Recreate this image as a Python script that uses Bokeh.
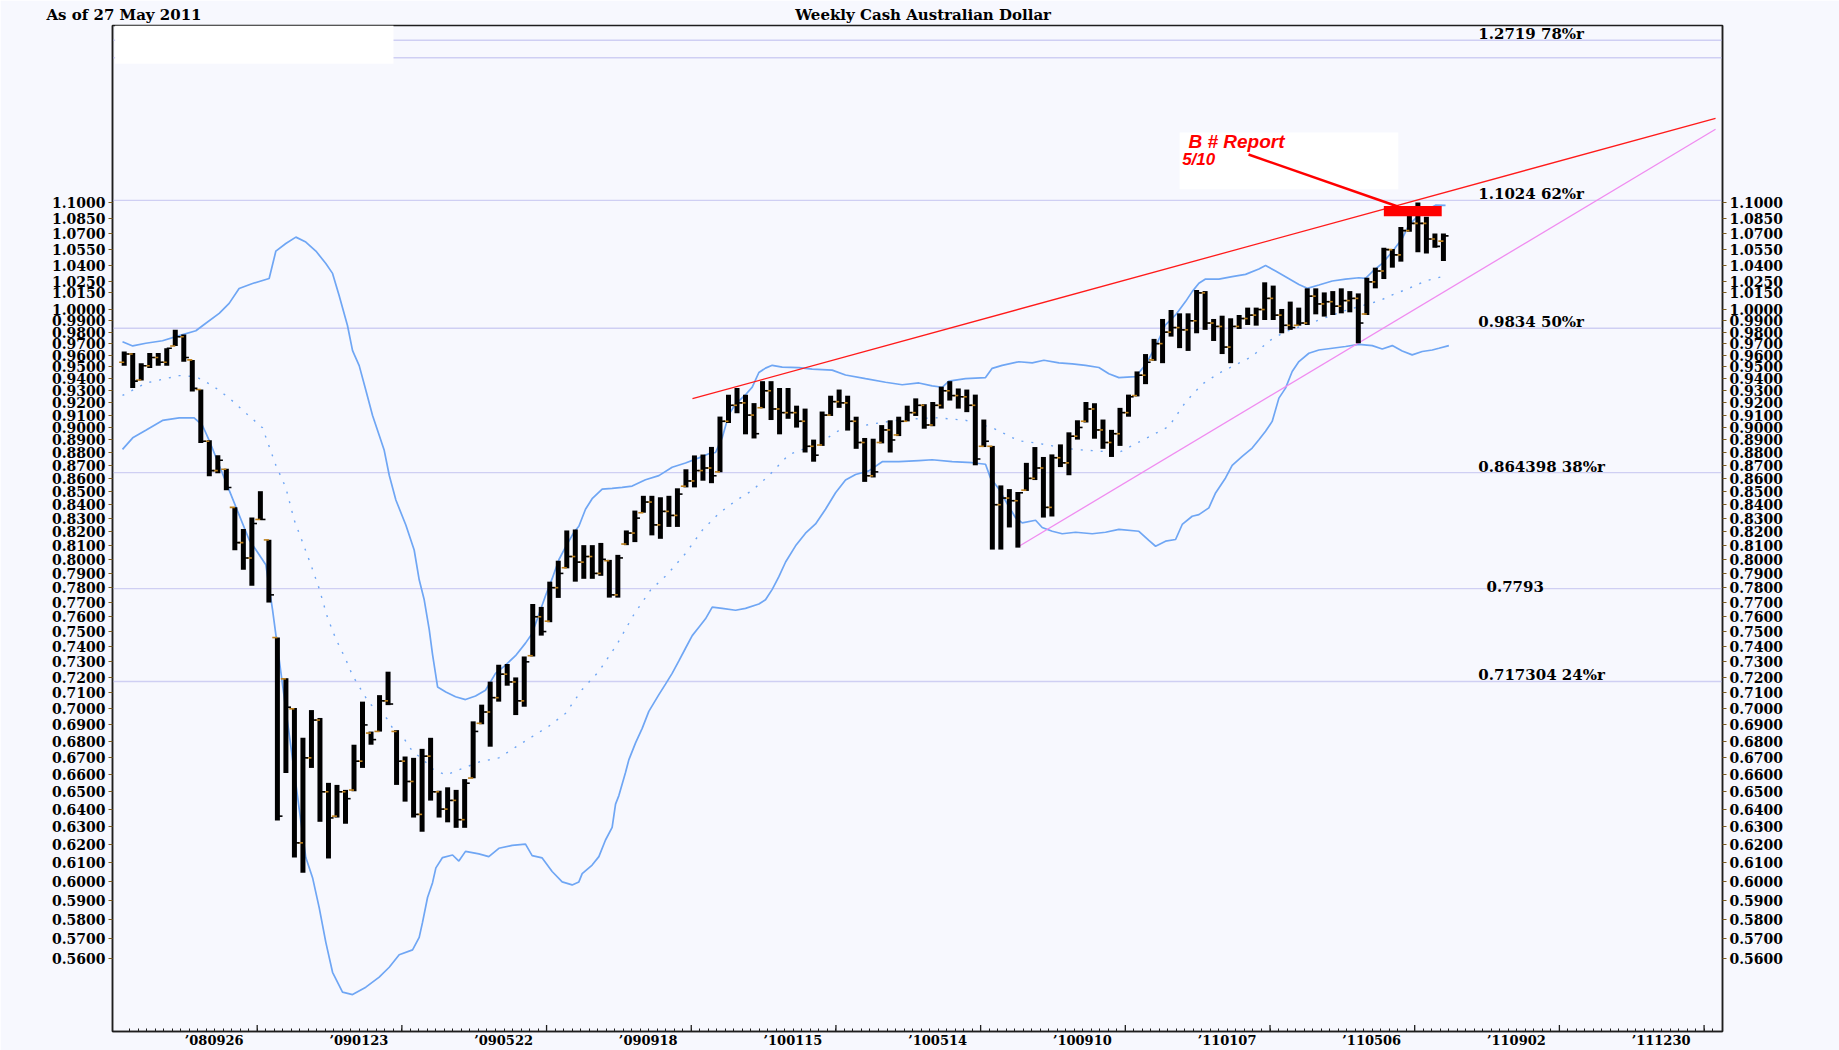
import math
import datetime as dt
from bokeh.plotting import figure
from bokeh.models import (Range1d, FixedTicker, LogAxis, LinearAxis, Span, Label,
                          PrintfTickFormatter, ColumnDataSource, BoxAnnotation, Arrow)
from bokeh.embed import file_html
from bokeh.resources import INLINE
from bokeh.core.properties import value

# ---------------- data (weekly AUD/USD, first bar = week ending 2008-06-06) -------------
first_week = "2008-06-06"

bar_high = [
    .9631, .962, .9532, .962, .962, .966, .982, .978, .956, .931,
    .8898, .878, .8674, .838, .822, .8304, .8502, .8141, .746, .7194,
    .7005, .6821, .6992, .6943, .6552, .654, .6511, .6779, .7045, .6859,
    .7086, .7236, .6868, .6708, .67, .6754, .6821, .6506, .6526, .6511,
    .6574, .6922, .7026, .7172, .7281, .7286, .7199, .7335, .7687, .7667,
    .7842, .799, .8209, .8216, .8102, .8102, .8118, .7996, .8032, .8209,
    .8356, .8467, .8467, .8456, .8467, .8524, .867, .8778, .8785, .8845,
    .9088, .9267, .9323, .9267, .9198, .938, .938, .9323, .9323, .9177,
    .9153, .8903, .9129, .9259, .931, .9259, .9087, .8916, .891, .9019,
    .9058, .9087, .9177, .9237, .9189, .9207, .9334, .938, .9319, .931,
    .9268, .9064, .8853, .8546, .8518, .8496, .872, .8844, .8766, .8786,
    .8865, .8961, .9058, .9207, .9197, .9064, .8981, .9159, .9268, .9462,
    .961, .9741, .9916, .9996, .9966, .9966, 1.0176, 1.0166, .9916, .9945,
    .9922, .9951, 1.0017, 1.0017, 1.0246, 1.0216, 1.0005, 1.0071, 1.0017, 1.0191,
    1.0191, 1.0154, 1.0166, 1.0191, 1.0166, 1.0145, 1.0288, 1.0381, 1.0568, 1.0555,
    1.0766, 1.0912, 1.1003, 1.0863, 1.0703, 1.0703]

bar_low = [
    .951, .9323, .9385, .949, .951, .951, .968, .9545, .9294, .8877,
    .8616, .864, .8509, .8065, .7925, .7813, .8286, .7697, .6336, .661,
    .6129, .6047, .664, .6328, .6124, .6352, .6317, .6503, .664, .6779,
    .6859, .7023, .654, .6443, .6352, .6272, .6449, .6352, .6325, .6294,
    .6294, .6579, .6904, .6767, .7045, .7146, .6961, .7013, .7335, .7473,
    .7563, .7729, .7936, .7842, .7862, .7862, .7883, .7731, .7731, .8102,
    .8124, .834, .8173, .8148, .8235, .8235, .8531, .8531, .8582, .8563,
    .8647, .9036, .9115, .8945, .8912, .9156, .906, .8945, .907, .8999,
    .8801, .8729, .8853, .9093, .9159, .8975, .883, .8573, .8607, .8873,
    .8801, .8931, .9049, .9093, .899, .901, .9153, .9219, .9153, .9124,
    .8701, .8844, .807, .807, .8231, .8084, .8504, .8587, .8304, .8312,
    .8687, .8624, .8903, .904, .891, .883, .8766, .8853, .9087, .9253,
    .9355, .9552, .9532, .9761, .9661, .9637, .979, .982, .9723, .961,
    .9532, .9828, .9863, .9857, .9907, .9907, .979, .982, .9857, .9863,
    .9957, .9937, .9951, .9966, .9975, .9703, .9951, 1.0191, 1.0276, 1.0381,
    1.0437, 1.0719, 1.0524, 1.0514, 1.0568, 1.0443]

bar_open = [
    .954, .961, .939, .951, .958, .954, .968, .976, .956, .931,
    .889, .866, .867, .838, .812, .801, .829, .814, .746, .719,
    .700, .621, .670, .693, .650, .636, .650, .651, .668, .685,
    .686, .705, .686, .668, .656, .637, .671, .650, .640, .645,
    .634, .658, .691, .698, .707, .722, .717, .705, .734, .760,
    .757, .780, .794, .802, .798, .802, .790, .799, .775, .811,
    .819, .834, .842, .825, .835, .832, .854, .858, .866, .868,
    .865, .905, .918, .920, .910, .916, .930, .915, .912, .912,
    .905, .885, .886, .910, .921, .920, .905, .888, .862, .888,
    .898, .894, .905, .912, .918, .902, .918, .930, .926, .925,
    .918, .885, .885, .840, .845, .843, .851, .860, .868, .838,
    .876, .872, .893, .905, .915, .898, .888, .895, .912, .926,
    .943, .956, .970, .980, .984, .982, .990, 1.015, .988, .985,
    .967, .985, .992, .995, 1.000, 1.010, .995, .986, .986, .988,
    1.012, 1.005, 1.007, 1.003, 1.008, 1.010, .996, 1.025, 1.035, 1.055,
    1.050, 1.073, 1.080, 1.080, 1.065, 1.063]

bar_close = [
    .961, .938, .951, .958, .954, .966, .976, .958, .932, .889,
    .866, .874, .853, .812, .801, .826, .829, .775, .636, .701,
    .621, .670, .693, .650, .635, .650, .646, .668, .690, .681,
    .705, .703, .668, .656, .637, .671, .650, .640, .645, .634,
    .655, .686, .698, .707, .722, .717, .705, .730, .760, .750,
    .780, .790, .802, .798, .802, .790, .800, .775, .801, .819,
    .830, .842, .825, .835, .832, .848, .858, .866, .868, .862,
    .905, .918, .920, .910, .895, .930, .915, .912, .912, .905,
    .885, .878, .910, .921, .920, .905, .888, .862, .865, .898,
    .890, .905, .912, .918, .902, .918, .930, .926, .925, .918,
    .875, .889, .840, .845, .843, .849, .860, .868, .838, .876,
    .872, .893, .900, .915, .898, .888, .895, .912, .925, .943,
    .954, .970, .980, .984, .982, .990, 1.015, .988, .985, .967,
    .985, .992, .995, 1.000, 1.010, .995, .986, .984, .988, 1.012,
    1.005, 1.007, 1.003, 1.008, 1.010, .988, 1.025, 1.035, 1.055, 1.050,
    1.073, 1.080, 1.080, 1.065, 1.058, 1.068]

# Bollinger bands (week index from first bar, price)
upper_x = [-0.2, 1.0, 2.54, 4.5, 6.46, 8.42, 9.59, 11.16, 12.33, 13.5, 15.08, 17.03, 17.82, 18.99,
           20.17, 21.34, 22.52, 23.69, 24.48, 25.26, 26.24, 26.83, 27.61, 28.4, 29.18, 29.96, 30.55,
           31.14, 31.92, 33.09, 34.07, 34.66, 35.25, 35.84, 36.23, 36.82, 37.79, 38.93, 40.1, 41.28,
           42.45, 43.63, 44.8, 45.98, 47.15, 47.93, 48.72, 49.5, 50.28, 51.07, 51.85, 52.83, 53.42,
           54.2, 54.98, 56.16, 57.33, 58.51, 59.68, 61.25, 62.82, 64.38, 65.95, 67.52, 68.69, 69.48,
           70.26, 71.04, 71.83, 73.0, 73.79, 74.57, 75.35, 76.14, 77.31, 79.27, 80.83, 83.18, 84.75,
           87.1, 89.45, 91.41, 93.37, 94.93, 96.11, 96.89, 98.85, 101.2, 101.98, 103.16, 105.12,
           106.69, 108.06, 109.82, 111.39, 112.95, 114.52, 115.69, 116.87, 118.83, 120.0, 121.18,
           122.35, 123.53, 124.7, 125.48, 126.27, 127.05, 128.62, 130.18, 131.75, 133.32, 134.1,
           135.28, 136.45, 138.02, 139.0, 140.37, 141.94, 143.5, 145.07, 145.85, 146.64, 147.81,
           148.99, 150.16, 150.94, 151.73, 152.9, 154.08, 155.25]
upper_y = [.9717, .968, .9703, .9725, .977, .9812, .9878, .9966, 1.0055, 1.019, 1.0235, 1.0281, 1.0536,
           1.0607, 1.0668, 1.0621, 1.0536, 1.042, 1.0328, 1.0123, .9856, .9639, .9511, .9302, .9097,
           .8937, .8818, .8624, .8435, .8249, .8067, .7855, .7716, .7513, .7347, .7138, .7106, .7076,
           .7058, .7081, .7117, .7225, .7279, .734, .7423, .7487, .7615, .7744, .7863, .7997, .8088,
           .8195, .824, .8366, .8445, .8518, .8524, .8531, .8541, .8589, .8621, .8686, .8719, .8759,
           .8791, .8801, .8918, .9105, .919, .9267, .933, .9453, .949, .9514, .9498, .9495, .9482,
           .9473, .9432, .9401, .9371, .935, .9365, .9341, .9329, .938, .9401, .941, .9488, .9513,
           .9544, .9535, .9557, .9535, .9526, .9513, .9495, .9442, .941, .9419, .9518, .9675, .9863,
           .9952, 1.0071, 1.0161, 1.0237, 1.0276, 1.0276, 1.0298, 1.0319, 1.0368, 1.04, 1.035, 1.0298,
           1.0227, 1.0191, 1.0221, 1.0258, 1.0276, 1.0288, 1.0282, 1.0343, 1.0421, 1.053, 1.0655,
           1.0783, 1.0848, 1.0928, 1.0977, 1.0975]

lower_x = [-0.2, 1.0, 2.54, 4.5, 6.46, 8.22, 9.2, 9.98, 11.16, 12.33, 13.51, 14.68, 15.86, 16.64,
           17.43, 18.21, 18.99, 19.78, 20.56, 21.34, 22.13, 22.91, 23.69, 24.48, 25.65, 26.83, 28.39,
           29.96, 31.14, 32.31, 33.88, 34.66, 35.05, 35.64, 36.23, 36.62, 37.4, 38.58, 39.32, 40.1,
           41.67, 42.84, 44.02, 45.58, 47.15, 47.93, 49.11, 50.28, 51.46, 52.63, 53.42, 53.81, 54.98,
           55.77, 56.55, 57.33, 57.73, 58.12, 58.9, 59.29, 60.08, 60.86, 61.64, 62.82, 63.6, 64.38,
           65.17, 65.95, 66.74, 67.52, 68.3, 69.09, 70.26, 71.83, 73.0, 74.57, 75.35, 76.14, 76.92,
           77.71, 78.88, 80.05, 81.23, 82.4, 83.58, 84.75, 85.93, 87.49, 89.06, 91.02, 93.37, 94.93,
           97.28, 99.63, 101.2, 101.79, 102.77, 103.75, 104.73, 105.51, 107.08, 107.86, 109.04,
           110.21, 111.78, 113.74, 115.3, 116.87, 119.22, 120.39, 121.18, 122.35, 123.53, 124.31,
           125.48, 126.27, 127.44, 128.23, 129.4, 130.18, 131.36, 132.53, 133.32, 134.1, 134.88,
           135.67, 136.45, 137.23, 138.02, 139.19, 140.37, 141.94, 143.5, 145.07, 146.64, 147.81,
           148.99, 150.16, 151.33, 152.51, 153.69, 154.47, 155.64]
lower_y = [.8826, .8917, .8977, .9057, .9077, .9077, .9016, .8897, .8701, .851, .8322, .8141, .8033,
           .7962, .7647, .7315, .6997, .6693, .6401, .6129, .602, .5861, .5682, .5532, .5435, .5423,
           .5459, .5508, .5557, .5619, .5644, .5707, .5784, .5914, .5993, .6073, .6129, .6143, .611,
           .6163, .6149, .6134, .618, .6196, .6203, .614, .6127, .6053, .5997, .5981, .5997, .6042,
           .6088, .6134, .6226, .6297, .6429, .6478, .6613, .6688, .679, .6879, .6984, .7089, .7156,
           .7225, .7306, .7389, .7473, .7529, .7586, .7666, .7657, .7644, .7657, .7687, .7716, .7788,
           .7877, .7981, .8097, .8189, .8257, .8366, .849, .8588, .863, .8658, .8729, .8729, .8738,
           .8744, .8729, .8721, .8709, .8602, .8518, .8407, .8303, .8265, .8284, .8231, .8203, .8185,
           .8196, .8185, .8196, .8217, .8203, .8136, .8094, .8131, .8143, .8253, .8314, .8326, .8376,
           .8489, .8603, .8701, .8771, .8836, .8902, .8969, .9049, .9239, .9322, .9461, .9546, .9617,
           .9645, .966, .9675, .9694, .9683, .9654, .9683, .9637, .9603, .9632, .9645, .966, .9683]

mid_x = [-0.2, 2.54, 6.46, 8.42, 10.38, 12.33, 14.29, 16.25, 17.82, 18.99, 19.97, 20.95, 21.93, 22.91,
         23.89, 24.87, 26.04, 26.83, 27.81, 28.79, 29.96, 30.94, 31.92, 32.9, 33.88, 35.05, 36.23,
         37.79, 41.67, 44.02, 45.98, 47.93, 49.89, 51.85, 53.81, 55.77, 57.92, 59.88, 61.84, 63.8,
         65.95, 67.91, 69.87, 71.83, 73.79, 75.74, 78.1, 81.62, 83.97, 87.88, 91.41, 95.33, 98.85,
         101.98, 105.12, 107.47, 109.04, 111.78, 113.74, 116.87, 122.74, 124.7, 126.66, 128.62,
         130.58, 132.53, 134.49, 136.45, 138.8, 141.15, 143.11, 145.07, 147.42, 148.99, 150.94,
         152.9, 154.86]
mid_y = [.9261, .9364, .9427, .9418, .9343, .924, .9117, .8997, .8701, .8529, .8286, .8124, .7962,
         .7793, .7594, .745, .7315, .7211, .7122, .7035, .6982, .6936, .6844, .6814, .6738, .6693,
         .6634, .6598, .6675, .67, .6764, .6828, .6892, .6971, .7122, .7238, .7417, .7615, .7783,
         .7892, .8042, .821, .8335, .8429, .8508, .8621, .8785, .8873, .8975, .9028, .9064, .9079,
         .9058, .8999, .8893, .8873, .8853, .8824, .8816, .8801, .9008, .9206, .9355, .9447, .9518,
         .9589, .9723, .9805, .9864, .9928, .9982, 1.0026, 1.0077, 1.0131, 1.0191, 1.0258, 1.0298]

# retracement levels and their labels
fib_levels = [1.2719, 1.2522, 1.1024, 0.9834, 0.864398, 0.7793, 0.717304]
fib_label_levels = [1.2719, 1.1024, 0.9834, 0.864398, 0.7793, 0.717304]
fib_text = ["1.2719 78%r", "1.1024 62%r", "0.9834 50%r", "0.864398 38%r", "0.7793", "0.717304 24%r"]
fib_text_x = [159.1, 159.1, 159.1, 159.1, 160.06, 159.1]

# drawn trend lines
red_line_x = [66.77, 186.97]
red_line_y = [0.9234, 1.1863]
pink_line_x = [105.04, 186.97]
pink_line_y = [0.809, 1.1747]

# axis ticks
ytick_values = [0.56, 0.57, 0.58, 0.59, 0.60, 0.61, 0.62, 0.63, 0.64, 0.65, 0.66, 0.67, 0.68, 0.69,
                0.70, 0.71, 0.72, 0.73, 0.74, 0.75, 0.76, 0.77, 0.78, 0.79, 0.80, 0.81, 0.82, 0.83,
                0.84, 0.85, 0.86, 0.87, 0.88, 0.89, 0.90, 0.91, 0.92, 0.93, 0.94, 0.95, 0.96, 0.97,
                0.98, 0.99, 1.00, 1.015, 1.025, 1.04, 1.055, 1.07, 1.085, 1.10]
xtick_dates = ["2008-09-26", "2009-01-23", "2009-05-22", "2009-09-18", "2010-01-15", "2010-05-14",
               "2010-09-10", "2011-01-07", "2011-05-06", "2011-09-02", "2011-12-30"]

title_left = "As of 27 May 2011"
title_center = "Weekly Cash Australian Dollar"

# ---------------- layout helpers -------------
BG = "#F7F8FE"
GRID = "#CFCFF3"
BAND = "#6FA6F4"
AXC = "#1E1E1E"
SERIF = "DejaVu Serif"

Y0, Y1 = 0.5247, 1.2888          # value range of the frame (log scale)
X0, X1 = -1.375, 187.79
FRAME_H = 1008                   # 25 .. 1033 px

d0 = dt.date.fromisoformat(first_week)
def widx(s):
    return (dt.date.fromisoformat(s) - d0).days / 7.0

TICK_SHIFT = -0.375
LABEL_SHIFT = -5.05
major_pos = [widx(d) + TICK_SHIFT for d in xtick_dates]
label_pos = [round(m + LABEL_SHIFT, 3) for m in major_pos]
label_txt = ["\u2019" + d[2:4] + d[5:7] + d[8:10] for d in xtick_dates]
minor_pos = [k + TICK_SHIFT for k in range(1, 188)]
px_per_ln = FRAME_H / math.log(Y1 / Y0)
major_tick_top = Y0 * math.exp(6.5 / px_per_ln)

n = len(bar_high)
xs = list(range(n))
src = ColumnDataSource(dict(
    x=xs, xl=[x - 0.6 for x in xs], xr=[x + 0.6 for x in xs],
    high=bar_high, low=bar_low, open=bar_open, close=bar_close))

p = figure(width=1839, height=1050, y_axis_type="log",
           x_range=Range1d(X0, X1), y_range=Range1d(Y0, Y1),
           output_backend="svg", toolbar_location=None,
           min_border_left=112, min_border_right=117, min_border_top=25, min_border_bottom=17,
           background_fill_color=BG, border_fill_color=BG)
p.grid.visible = False
p.outline_line_color = AXC
p.outline_line_width = 1.5

# y axes (left and right)
raxis = LogAxis()
p.add_layout(raxis, "right")
for ax in (p.yaxis[0], raxis):
    ax.ticker = FixedTicker(ticks=ytick_values, minor_ticks=[])
    ax.formatter = PrintfTickFormatter(format="%.4f")
    ax.major_label_text_font = SERIF
    ax.major_label_text_font_style = "bold"
    ax.major_label_text_font_size = "14px"
    ax.major_label_text_color = "black"
    ax.major_tick_out = 4
    ax.major_tick_in = 0
    ax.minor_tick_out = 0
    ax.minor_tick_in = 0
    ax.major_tick_line_color = "#7A5A1E"
    ax.major_tick_line_width = 1.2
    ax.axis_line_color = AXC
    ax.axis_line_width = 1.5
    ax.major_label_standoff = 3

# x axis: labels left of the date ticks, weekly minor ticks
xa = p.xaxis[0]
xa.ticker = FixedTicker(ticks=label_pos, minor_ticks=minor_pos)
xa.major_label_overrides = {lp: t for lp, t in zip(label_pos, label_txt)}
xa.major_tick_line_color = None
xa.major_tick_in = 0
xa.major_tick_out = 0
xa.minor_tick_in = 3
xa.minor_tick_out = 0
xa.minor_tick_line_color = AXC
xa.axis_line_color = AXC
xa.axis_line_width = 1.5
xa.major_label_standoff = 1
xa.major_label_text_font = SERIF
xa.major_label_text_font_style = "bold"
xa.major_label_text_font_size = "13px"
xa.major_label_text_color = "black"

# titles, written as tick labels of an axis above the frame
t_left_x = round(-0.024, 3)
t_center_x = round(93.87, 3)
ta = LinearAxis(ticker=FixedTicker(ticks=[t_left_x, t_center_x], minor_ticks=[]),
                major_label_overrides={t_left_x: title_left, t_center_x: title_center})
ta.axis_line_color = None
ta.major_tick_line_color = None
ta.minor_tick_line_color = None
ta.major_tick_in = 0
ta.major_tick_out = 0
ta.minor_tick_in = 0
ta.minor_tick_out = 0
ta.major_label_standoff = 2
ta.major_label_text_font = SERIF
ta.major_label_text_font_style = "bold"
ta.major_label_text_font_size = "15px"
ta.major_label_text_color = "black"
p.add_layout(ta, "above")

# retracement lines
for lv in fib_levels:
    p.add_layout(Span(location=lv, dimension="width", line_color=GRID, line_width=1.4, level="underlay"))
p.add_layout(BoxAnnotation(left=-1.07, right=31.64, bottom=1.2456, top=Y1, fill_color="white",
                           fill_alpha=1.0, line_color=None, level="underlay"))

# major date ticks (point up from the axis line)
p.segment(x0=major_pos, y0=[Y0] * len(major_pos), x1=major_pos, y1=[major_tick_top] * len(major_pos),
          line_color=AXC, line_width=1.3)

# Bollinger bands
p.line(upper_x, upper_y, line_color=BAND, line_width=1.7)
p.line(lower_x, lower_y, line_color=BAND, line_width=1.7)
p.line(mid_x, mid_y, line_color=BAND, line_width=1.4, line_dash="2 8")

# trend lines
p.line(red_line_x, red_line_y, line_color="#FF1A1A", line_width=1.3)
p.line(pink_line_x, pink_line_y, line_color="#F08CF0", line_width=1.3)

# OHLC bars
p.segment(x0="x", y0="low", x1="x", y1="high", source=src, line_color="black", line_width=5)
p.segment(x0="xl", y0="open", x1="x", y1="open", source=src, line_color="#C0821C", line_width=1.6)
p.segment(x0="x", y0="close", x1="xr", y1="close", source=src, line_color="black", line_width=1.6)

# retracement labels
fsrc = ColumnDataSource(dict(x=fib_text_x, y=fib_label_levels, t=fib_text))
p.text(x="x", y="y", text="t", source=fsrc, text_font=value(SERIF), text_font_style="bold",
       text_font_size="15px", text_color="black", text_baseline="bottom", text_align="left", y_offset=3)

# report note
p.add_layout(BoxAnnotation(left=124.0, right=149.7, bottom=1.1135, top=1.1712, fill_color="white",
                           fill_alpha=1.0, line_color=None, level="underlay"))
p.add_layout(Label(x=125.04, y=1.1619, text="B # Report", text_color="red", text_font="Liberation Sans",
                   text_font_style="bold italic", text_font_size="19px", text_baseline="alphabetic"))
p.add_layout(Label(x=124.3, y=1.1437, text="5/10", text_color="red", text_font="Liberation Sans",
                   text_font_style="bold italic", text_font_size="17px", text_baseline="alphabetic"))
p.add_layout(Arrow(end=None, x_start=132.1, y_start=1.1485, x_end=149.72, y_end=1.0961,
                   line_color="red", line_width=2.5))
p.add_layout(BoxAnnotation(left=148.0, right=154.8, bottom=1.087, top=1.097, fill_color="#FF0000",
                           fill_alpha=1.0, line_color=None))

open("out.html", "w").write(file_html(p, INLINE))
